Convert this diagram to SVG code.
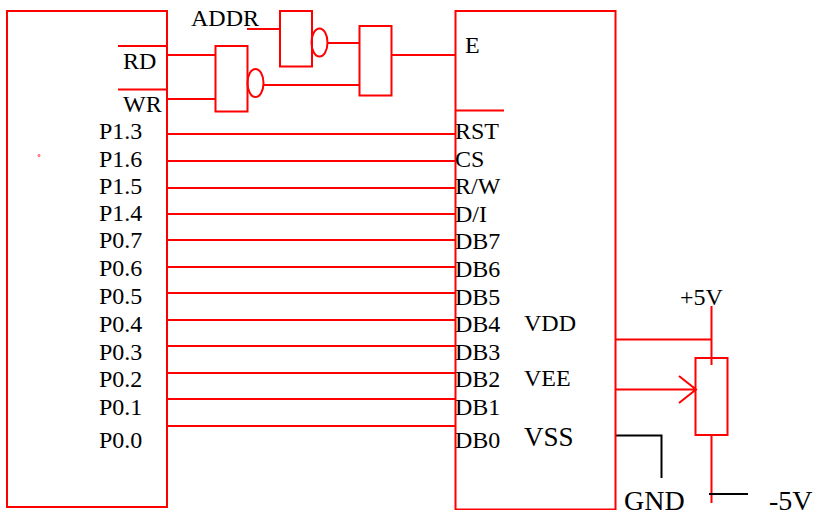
<svg xmlns="http://www.w3.org/2000/svg" width="813" height="510" viewBox="0 0 813 510">
<style>
.r{fill:none;stroke:#ff0000;stroke-width:2}
.k{fill:none;stroke:#000;stroke-width:2}
text{font-family:"Liberation Serif","Times New Roman",serif;font-size:24px;fill:#000}
.b{font-size:27px}
.c{font-size:28px}
</style>
<rect width="813" height="510" fill="#fff"/>
<g id="connectors">
<path class="r" d="M167 134H455M167 161H455M167 188H455M167 214H455M167 240H455M167 267H455M167 293H455M167 320H455M167 346H455M167 373H455M167 399H455M167 426H455"/>
<path class="r" d="M167 55H215M167 99H215M247 29H280M328 43H359M264 85H359M391 55H455"/>
<path class="r" d="M118 46H167M118 89.500H167M455 110.500H504"/>
<path class="r" d="M615 339.500H712M711.500 306V365M615 389.500H695M679 376L696 389.500L679 403M711.500 434V503"/>
<path class="k" d="M615 435.500H661.500V478M709 494H748"/>
</g>
<g id="mcu">
<rect class="r" x="7" y="11" width="160" height="496"/>
<text x="123" y="69">RD</text><text x="123" y="112">WR</text>
<text x="99" y="139">P1.3</text><text x="99" y="167">P1.6</text><text x="99" y="194">P1.5</text><text x="99" y="221">P1.4</text><text x="99" y="248">P0.7</text><text x="99" y="276">P0.6</text><text x="99" y="304">P0.5</text><text x="99" y="332">P0.4</text><text x="99" y="360">P0.3</text><text x="99" y="387">P0.2</text><text x="99" y="415">P0.1</text><text x="99" y="448">P0.0</text>
<circle cx="39" cy="155.500" r="1" fill="none" stroke="#ff0000" stroke-width="0.700"/>
</g>
<g id="lcd">
<rect class="r" x="455.500" y="11" width="160" height="498.500"/>
<text x="465" y="53">E</text>
<text x="455" y="139">RST</text><text x="455" y="167">CS</text><text x="455" y="194">R/W</text><text x="455" y="222">D/I</text><text x="455" y="249">DB7</text><text x="455" y="277">DB6</text><text x="455" y="305">DB5</text><text x="455" y="332">DB4</text><text x="455" y="360">DB3</text><text x="455" y="387">DB2</text><text x="455" y="415">DB1</text><text x="455" y="448">DB0</text>
<text x="524" y="331">VDD</text><text x="524" y="386">VEE</text><text x="524" y="446" class="b">VSS</text>
</g>
<g id="addr-label"><text x="191" y="26">ADDR</text></g>
<g id="gate-addr"><rect class="r" x="280" y="11" width="32" height="55.500"/><ellipse class="r" cx="319.500" cy="42.500" rx="8" ry="14"/></g>
<g id="gate-rw"><rect class="r" x="215.500" y="46" width="32" height="65.500"/><ellipse class="r" cx="255.500" cy="83" rx="8" ry="14"/></g>
<g id="gate-e"><rect class="r" x="359.500" y="26" width="32" height="69.500"/></g>
<g id="potentiometer"><rect class="r" x="695.500" y="358" width="32" height="77"/>
<text x="680" y="305">+5V</text><text x="769" y="510" class="c">-5V</text></g>
<g id="gnd"><text x="624" y="510" class="c">GND</text></g>
</svg>
